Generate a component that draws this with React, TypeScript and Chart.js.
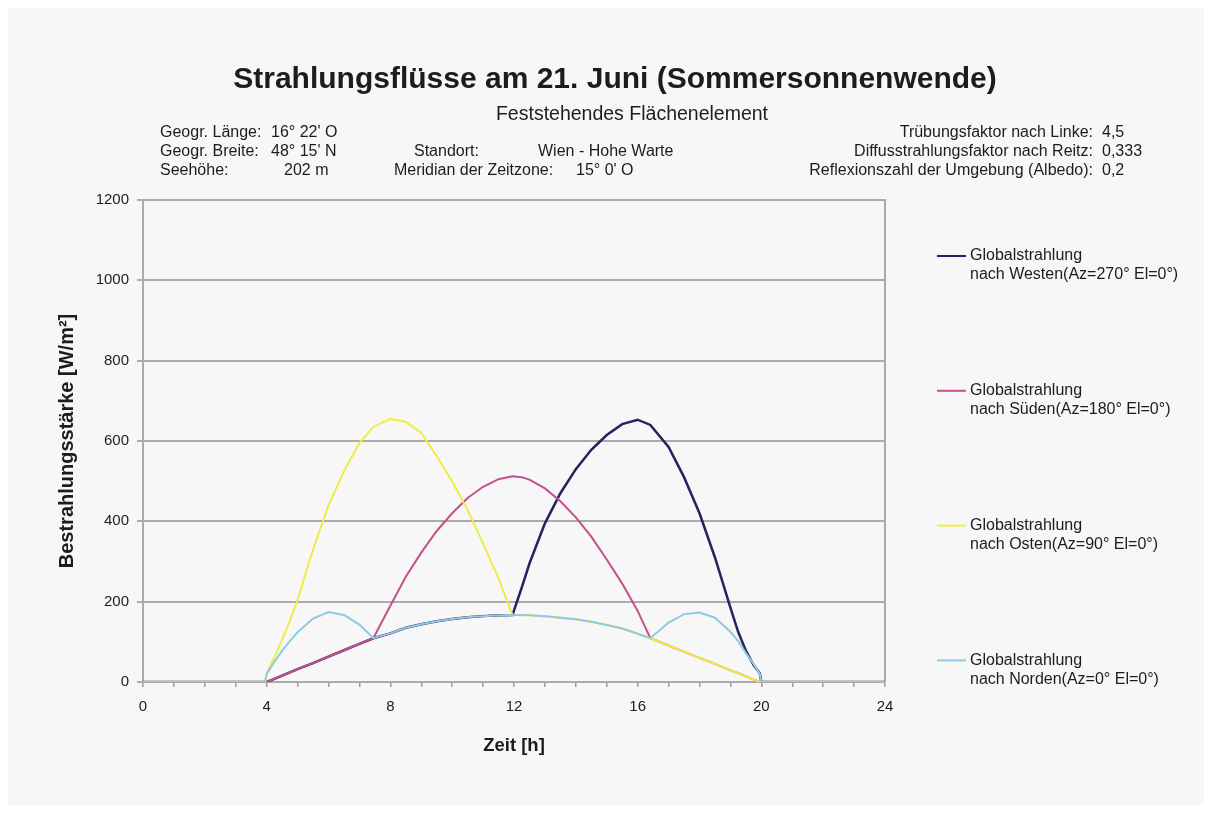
import React, { useEffect, useRef } from 'react';
import { Chart, registerables } from 'chart.js';

Chart.register(...registerables);

// ---------- data ----------
const hours = [0, 1, 2, 3, 3.95, 4, 4.25, 4.5, 4.75, 5, 5.5, 6, 6.5, 7, 7.45, 8, 8.5, 9, 9.5, 10, 10.5, 11, 11.5, 11.95, 12.25, 12.5, 13, 13.5, 14, 14.5, 15, 15.5, 16, 16.41, 17, 17.5, 18, 18.5, 19, 19.25, 19.5, 19.75, 19.95, 20, 21, 22, 23, 24];

const westValues = [0, 0, 0, 0, 0, 0, 8, 16, 24, 32, 47, 63, 79, 95, 109, 121, 135, 144, 151, 157, 161, 164, 166, 167, 235, 295, 395, 470, 530, 578, 615, 642, 653, 640, 585, 510, 420, 310, 185, 125, 78, 42, 22, 0, 0, 0, 0, 0];
const southValues = [0, 0, 0, 0, 0, 0, 8, 16, 24, 32, 47, 63, 79, 95, 109, 190, 262, 322, 376, 420, 458, 486, 505, 512, 510, 504, 482, 450, 410, 362, 305, 245, 177, 109, 91, 75, 60, 45, 29, 22, 14, 6, 0, 0, 0, 0, 0, 0];
const eastValues = [0, 0, 0, 0, 0, 22, 62, 105, 152, 205, 330, 440, 525, 595, 635, 655, 648, 620, 562, 500, 428, 345, 258, 167, 166, 166, 164, 160, 156, 150, 142, 133, 120, 109, 91, 75, 60, 45, 29, 22, 14, 6, 0, 0, 0, 0, 0, 0];
const northValues = [0, 0, 0, 0, 0, 20, 50, 78, 102, 124, 158, 174, 167, 143, 109, 121, 135, 144, 151, 157, 161, 164, 166, 167, 167, 166, 164, 160, 156, 150, 142, 133, 120, 109, 148, 169, 173, 160, 125, 102, 72, 45, 20, 0, 0, 0, 0, 0];

const legendFirstLine = 'Globalstrahlung';
const legendSecondLines = [
  'nach Westen(Az=270° El=0°)',
  'nach Süden(Az=180° El=0°)',
  'nach Osten(Az=90° El=0°)',
  'nach Norden(Az=0° El=0°)',
];
const seriesColors = ['#23235f', '#c4508e', '#f0ec46', '#92c8e2'];
const seriesWidths = [2.5, 2, 2, 2];

const xLabelHours = [0, 4, 8, 12, 16, 20, 24];

const titleText = 'Strahlungsflüsse am 21. Juni (Sommersonnenwende)';
const subtitleText = 'Feststehendes Flächenelement';
const infoLeftLabels = ['Geogr. Länge:', 'Geogr. Breite:', 'Seehöhe:'];
const infoLeftValues = ["16° 22' O", "48° 15' N", '202 m'];
const infoMidLabels = ['Standort:', 'Meridian der Zeitzone:'];
const infoMidValues = ['Wien - Hohe Warte', "15° 0' O"];
const infoRightLabels = ['Trübungsfaktor nach Linke:', 'Diffusstrahlungsfaktor nach Reitz:', 'Reflexionszahl der Umgebung (Albedo):'];
const infoRightValues = ['4,5', '0,333', '0,2'];

const FAMILY = '"Liberation Sans", Arial, Helvetica, sans-serif';
const TEXT = '#1c1c1c';
const GRID = '#ababab';
const BG = '#f7f7f7';

const W = 1196;
const H = 797;

const overlayPlugin = {
  id: 'overlay',
  beforeDraw(chart: any) {
    const ctx = chart.ctx;
    ctx.save();
    ctx.fillStyle = BG;
    ctx.fillRect(0, 0, chart.width, chart.height);
    ctx.restore();
  },
  beforeDatasetsDraw(chart: any) {
    const ctx = chart.ctx;
    const ca = chart.chartArea;
    ctx.save();
    ctx.strokeStyle = GRID;
    ctx.lineWidth = 2;
    ctx.beginPath();
    ctx.moveTo(ca.right, ca.top - 1);
    ctx.lineTo(ca.right, ca.bottom);
    ctx.stroke();
    ctx.restore();
  },
  afterDraw(chart: any) {
    const ctx = chart.ctx;
    const o = 8; // page -> canvas offset (body margin)
    ctx.save();
    ctx.fillStyle = TEXT;
    ctx.textBaseline = 'middle';

    // title
    ctx.font = `bold 30px ${FAMILY}`;
    ctx.textAlign = 'center';
    ctx.fillText(titleText, 615 - o, 80 - o);

    // subtitle
    ctx.font = `19.5px ${FAMILY}`;
    ctx.fillText(subtitleText, 632 - o, 115 - o);

    // info block
    ctx.textAlign = 'left';
    ctx.font = `16px ${FAMILY}`;
    const rows = [133, 152, 171];
    infoLeftLabels.forEach((t, i) => ctx.fillText(t, 160 - o, rows[i] - o));
    ctx.fillText(infoLeftValues[0], 271 - o, rows[0] - o);
    ctx.fillText(infoLeftValues[1], 271 - o, rows[1] - o);
    ctx.fillText(infoLeftValues[2], 284 - o, rows[2] - o);
    ctx.fillText(infoMidLabels[0], 414 - o, rows[1] - o);
    ctx.fillText(infoMidValues[0], 538 - o, rows[1] - o);
    ctx.fillText(infoMidLabels[1], 394 - o, rows[2] - o);
    ctx.fillText(infoMidValues[1], 576 - o, rows[2] - o);
    ctx.textAlign = 'right';
    infoRightLabels.forEach((t, i) => ctx.fillText(t, 1093 - o, rows[i] - o));
    ctx.textAlign = 'left';
    infoRightValues.forEach((t, i) => ctx.fillText(t, 1102 - o, rows[i] - o));

    // legend
    ctx.font = `16px ${FAMILY}`;
    legendSecondLines.forEach((second, i) => {
      const y = 256 + i * 134.8 - o;
      ctx.strokeStyle = seriesColors[i];
      ctx.lineWidth = 2;
      ctx.beginPath();
      ctx.moveTo(937 - o, y);
      ctx.lineTo(966 - o, y);
      ctx.stroke();
      ctx.fillText(legendFirstLine, 970 - o, y);
      ctx.fillText(second, 970 - o, y + 19);
    });
    ctx.restore();
  },
};

export default function App() {
  const ref = useRef<HTMLCanvasElement>(null);

  useEffect(() => {
    const canvas = ref.current;
    if (!canvas) return;
    const series = [westValues, southValues, eastValues, northValues];
    const chart = new Chart(canvas, {
      type: 'line',
      data: {
        datasets: series.map((vals, i) => ({
          label: legendFirstLine + ' ' + legendSecondLines[i],
          data: hours.map((h, k) => ({ x: h, y: vals[k] })),
          borderColor: seriesColors[i],
          backgroundColor: seriesColors[i],
          borderWidth: seriesWidths[i],
          pointRadius: 0,
          tension: 0,
          fill: false,
          order: 4 - i,
        })),
      },
      options: {
        responsive: false,
        animation: false,
        events: [],
        layout: { padding: { left: 0, right: W - 877, top: 192, bottom: H - 674 - 90 } },
        plugins: {
          legend: { display: false },
          title: { display: false },
          tooltip: { enabled: false },
        },
        scales: {
          x: {
            type: 'linear',
            min: 0,
            max: 24,
            afterFit: (s: any) => { s.height = 90; },
            ticks: {
              stepSize: 1,
              autoSkip: false,
              maxRotation: 0,
              padding: 11,
              color: TEXT,
              font: { family: FAMILY, size: 15 },
              callback: (v: any) => (xLabelHours.includes(Number(v)) ? String(v) : ''),
            },
            grid: { drawOnChartArea: false, drawTicks: true, tickLength: 5, color: '#9c9c9c', lineWidth: 1.5 },
            border: { display: true, color: GRID, width: 2 },
            title: {
              display: true,
              text: 'Zeit [h]',
              color: TEXT,
              font: { family: FAMILY, size: 18.5, weight: 'bold' },
              padding: { top: 0, bottom: 15 },
            },
          },
          y: {
            min: 0,
            max: 1200,
            afterFit: (s: any) => { s.width = 135; },
            ticks: {
              stepSize: 200,
              padding: 8,
              color: TEXT,
              font: { family: FAMILY, size: 15 },
              callback: (v: any) => String(v),
            },
            grid: { color: GRID, lineWidth: 2, drawTicks: true, tickLength: 6 },
            border: { display: true, color: GRID, width: 2 },
            title: {
              display: true,
              text: 'Bestrahlungsstärke [W/m²]',
              color: TEXT,
              font: { family: FAMILY, size: 20, weight: 'bold' },
              padding: { top: 47, bottom: 0 },
            },
          },
        },
      },
      plugins: [overlayPlugin],
    } as any);
    return () => chart.destroy();
  }, []);

  return (
    <div style={{ width: W, height: H, background: BG }}>
      <canvas ref={ref} width={W} height={H} style={{ display: 'block', width: W, height: H }} />
    </div>
  );
}
